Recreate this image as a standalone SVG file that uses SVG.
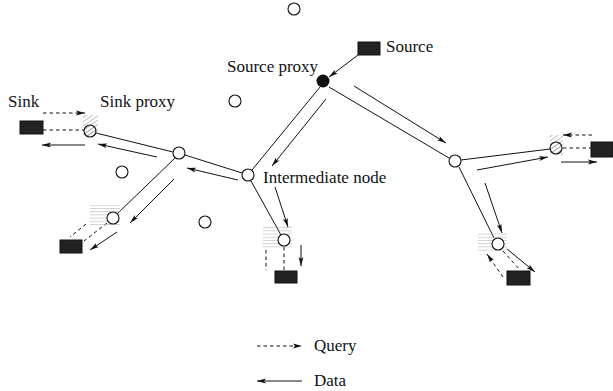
<svg xmlns="http://www.w3.org/2000/svg" width="613" height="391" viewBox="0 0 613 391">
<style>
text{font-family:"Liberation Serif","Times New Roman",serif;font-size:17px;fill:#111}
.l{stroke:#111;stroke-width:1;fill:none}
.a{stroke:#111;stroke-width:1;fill:none;marker-end:url(#ah)}
.d{stroke:#111;stroke-width:1;fill:none;stroke-dasharray:3.5 3}
.da{stroke:#111;stroke-width:1;fill:none;stroke-dasharray:3.5 3;marker-end:url(#ah)}
.n{fill:#fff;stroke:#111;stroke-width:1.1}
.b{fill:#222;stroke:#111}
</style>
<defs>
<marker id="ah" markerUnits="userSpaceOnUse" markerWidth="10" markerHeight="6" refX="9" refY="3" orient="auto">
<path d="M0,0.6 L9,3 L0,5.4 L2,3 z" fill="#111"/>
</marker>
<pattern id="hd" patternUnits="userSpaceOnUse" width="3.5" height="3.5" patternTransform="rotate(-35)">
<line x1="0" y1="0.5" x2="3.5" y2="0.5" stroke="#999" stroke-width="0.6"/>
</pattern>
<pattern id="hh" patternUnits="userSpaceOnUse" width="4" height="3.2">
<line x1="0" y1="0.5" x2="4" y2="0.5" stroke="#aaa" stroke-width="0.6"/>
</pattern>
</defs>

<g id="connectors">
<line class="a" x1="358" y1="55" x2="329" y2="77"/>
<line class="l" x1="320" y1="87" x2="252" y2="170"/>
<line class="a" x1="326" y1="99" x2="272" y2="166"/>
<line class="l" x1="329" y1="87" x2="449" y2="158"/>
<line class="a" x1="354" y1="86" x2="446" y2="143"/>
<line class="l" x1="461" y1="160" x2="550" y2="149"/>
<line class="a" x1="477" y1="170" x2="548" y2="157"/>
<line class="d" x1="563" y1="148" x2="591" y2="148"/>
<line class="da" x1="592" y1="135" x2="563" y2="135"/>
<line class="a" x1="561" y1="162" x2="597" y2="162"/>
<line class="l" x1="459" y1="167" x2="494" y2="238"/>
<line class="a" x1="485" y1="183" x2="502" y2="233"/>
<line class="a" x1="507" y1="249" x2="535" y2="272"/>
<line class="d" x1="503" y1="251" x2="520" y2="270"/>
<line class="da" x1="503" y1="277" x2="487" y2="254"/>
<line class="l" x1="242" y1="173" x2="185" y2="155"/>
<line class="a" x1="238" y1="180" x2="187" y2="168"/>
<line class="l" x1="173" y1="152" x2="96" y2="133"/>
<line class="a" x1="157" y1="157" x2="98" y2="144"/>
<line class="d" x1="43" y1="130" x2="84" y2="130"/>
<line class="da" x1="43" y1="113" x2="85" y2="113"/>
<line class="a" x1="85" y1="145" x2="42" y2="145"/>
<line class="l" x1="175" y1="158" x2="117" y2="214"/>
<line class="a" x1="174" y1="179" x2="130" y2="223"/>
<line class="d" x1="86" y1="224" x2="70" y2="237"/>
<line class="d" x1="107" y1="223" x2="84" y2="241"/>
<line class="a" x1="117" y1="232" x2="90" y2="250"/>
<line class="l" x1="251" y1="181" x2="281" y2="235"/>
<line class="a" x1="275" y1="187" x2="288" y2="227"/>
<line class="d" x1="266" y1="250" x2="266" y2="270"/>
<line class="d" x1="284" y1="247" x2="284" y2="270"/>
<line class="a" x1="301" y1="245" x2="301" y2="266"/>
</g>

<g id="source"><rect class="b" x="358" y="42" width="22" height="13"/><text x="386" y="52">Source</text></g>
<g id="source-proxy"><circle cx="323" cy="81" r="6.5" fill="#111"/><text x="227" y="72">Source proxy</text></g>
<g id="intermediate"><circle class="n" cx="248" cy="175" r="6"/><text x="263" y="183">Intermediate node</text></g>
<g id="left-node"><circle class="n" cx="179" cy="153" r="6"/></g>
<g id="right-node"><circle class="n" cx="455" cy="161" r="6"/></g>

<g id="sink-proxy-left">
<rect x="83" y="115" width="15" height="22" fill="url(#hd)"/>
<circle cx="90" cy="131" r="6" fill="url(#hd)" stroke="#111" stroke-width="1.1"/>
<text x="100" y="107">Sink proxy</text>
</g>
<g id="sink-left"><rect class="b" x="20" y="121" width="23" height="13"/><text x="8" y="107">Sink</text></g>

<g id="sink-proxy-ll">
<rect x="90" y="205" width="30" height="21" fill="url(#hh)"/>
<circle class="n" cx="113" cy="218" r="6"/>
</g>
<g id="sink-ll"><rect class="b" x="60" y="240" width="22" height="13"/></g>

<g id="sink-proxy-mid">
<rect x="263" y="227" width="29" height="21" fill="url(#hh)"/>
<circle class="n" cx="284" cy="240" r="6"/>
</g>
<g id="sink-mid"><rect class="b" x="275" y="271" width="22" height="12"/></g>

<g id="sink-proxy-right">
<rect x="550" y="135" width="13" height="20" fill="url(#hd)"/>
<circle cx="556" cy="148" r="6" fill="url(#hd)" stroke="#111" stroke-width="1.1"/>
</g>
<g id="sink-right"><rect class="b" x="591" y="142" width="22" height="15"/></g>

<g id="sink-proxy-lr">
<rect x="478" y="232" width="29" height="20" fill="url(#hh)"/>
<circle class="n" cx="498" cy="244" r="6"/>
</g>
<g id="sink-lr"><rect class="b" x="507" y="271" width="23" height="14"/></g>

<g id="idle-1"><circle class="n" cx="294" cy="9" r="6"/></g>
<g id="idle-2"><circle class="n" cx="235" cy="101" r="6"/></g>
<g id="idle-3"><circle class="n" cx="122" cy="172" r="6"/></g>
<g id="idle-4"><circle class="n" cx="205" cy="222" r="6"/></g>

<g id="legend">
<line class="da" x1="257" y1="346" x2="302" y2="346"/>
<text x="314" y="351">Query</text>
<line class="a" x1="302" y1="381" x2="257" y2="381"/>
<text x="314" y="386">Data</text>
</g>
</svg>
